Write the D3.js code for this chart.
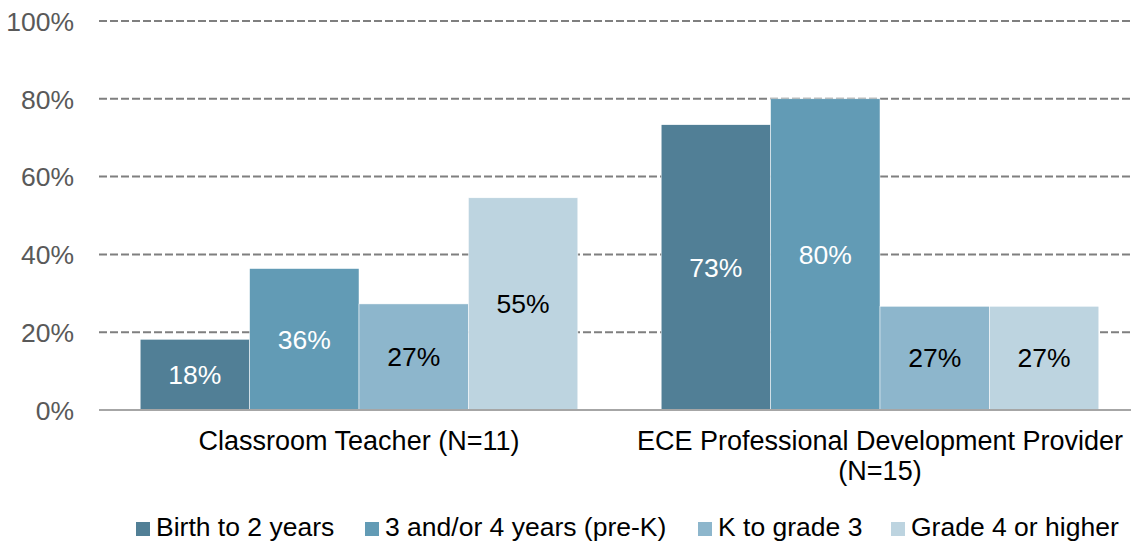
<!DOCTYPE html>
<html>
<head>
<meta charset="utf-8">
<script src="https://cdn.jsdelivr.net/npm/d3@7"></script>
<style>
  body { margin: 0; background: #fff; }
  svg { font-family: "Liberation Sans", Arial, sans-serif; }
</style>
</head>
<body>
<div class="container"></div>
<script>
const categories = [["Classroom Teacher (N=11)"], ["ECE Professional Development Provider", "(N=15)"]];
const series = ["Birth to 2 years", "3 and/or 4 years (pre-K)", "K to grade 3", "Grade 4 or higher"];
const colors = ["#517f96", "#629bb5", "#8db6cc", "#bdd4e0"];
const labelColors = ["#fff", "#fff", "#000", "#000"];
const values = [
  [0.1818, 0.3636, 0.2727, 0.5455],
  [0.7333, 0.8000, 0.2667, 0.2667]
];
const yTicks = [0, 0.2, 0.4, 0.6, 0.8, 1.0];
const legendX = [136, 365, 698, 891];

const width = 1131, height = 544;
const svg = d3.select(".container")
              .append("svg")
              .attr("width", width)
              .attr("height", height);

const x0 = d3.scaleBand()
             .domain(d3.range(categories.length))
             .range([98.5, 1140.5])
             .paddingInner(0)
             .paddingOuter(0);
const x1 = d3.scaleBand()
             .domain(d3.range(series.length))
             .range([0, x0.bandwidth() * 0.84]);
const groupOffset = x0.bandwidth() * 0.08;
const yScale = d3.scaleLinear()
                 .domain([0, 1])
                 .range([410, 21]);

// gridlines
svg.append("g")
   .selectAll("line")
   .data(yTicks.filter(d => d > 0))
   .join("line")
   .attr("x1", 99)
   .attr("x2", width)
   .attr("y1", d => yScale(d))
   .attr("y2", d => yScale(d))
   .attr("stroke", "#7f7f7f")
   .attr("stroke-width", 2)
   .attr("stroke-dasharray", "8,3");

// y tick labels
const yAxis = d3.axisLeft(yScale)
                .tickValues(yTicks)
                .tickFormat(d3.format(".0%"))
                .tickSize(0)
                .tickPadding(0);
svg.append("g")
   .attr("transform", "translate(74,0)")
   .call(yAxis)
   .call(g => g.select(".domain").remove())
   .call(g => g.selectAll("text")
               .attr("font-size", 26.5)
               .attr("font-family", "Liberation Sans, Arial, sans-serif")
               .attr("fill", "#595959")
               .attr("dy", "0.35em"));

// bars
const groups = svg.append("g")
                  .selectAll("g")
                  .data(values)
                  .join("g")
                  .attr("transform", (d, i) => `translate(${x0(i) + groupOffset},0)`);

groups.selectAll("rect")
      .data(d => d)
      .join("rect")
      .attr("x", (d, i) => x1(i))
      .attr("y", d => yScale(d))
      .attr("width", x1.bandwidth())
      .attr("height", d => yScale(0) - yScale(d))
      .attr("fill", (d, i) => colors[i])
      .attr("stroke", "#fff")
      .attr("stroke-width", 0.5);

groups.selectAll("text")
      .data(d => d)
      .join("text")
      .attr("x", (d, i) => x1(i) + x1.bandwidth() / 2)
      .attr("y", d => (yScale(d) + yScale(0)) / 2)
      .attr("dy", "0.35em")
      .attr("text-anchor", "middle")
      .attr("font-size", 26.5)
      .attr("fill", (d, i) => labelColors[i])
      .text(d => d3.format(".0%")(d));

// baseline
svg.append("line")
   .attr("x1", 99)
   .attr("x2", width)
   .attr("y1", yScale(0))
   .attr("y2", yScale(0))
   .attr("stroke", "#a6a6a6")
   .attr("stroke-width", 2);

// category labels
svg.append("g")
   .selectAll("text")
   .data(categories)
   .join("text")
   .attr("x", (d, i) => x0(i) + x0.bandwidth() / 2)
   .attr("y", 450)
   .attr("text-anchor", "middle")
   .attr("font-size", 27)
   .attr("fill", "#000")
   .each(function(d) {
     const t = d3.select(this);
     d.forEach((line, j) => {
       t.append("tspan")
        .attr("x", t.attr("x"))
        .attr("dy", j === 0 ? 0 : 30)
        .text(line);
     });
   });

// legend
const legend = svg.append("g")
                  .selectAll("g")
                  .data(series)
                  .join("g")
                  .attr("transform", (d, i) => `translate(${legendX[i]},0)`);
legend.append("rect")
      .attr("x", 0)
      .attr("y", 522)
      .attr("width", 14)
      .attr("height", 14)
      .attr("fill", (d, i) => colors[i]);
legend.append("text")
      .attr("x", 20)
      .attr("y", 536)
      .attr("font-size", 26.5)
      .attr("fill", "#000")
      .text(d => d);
</script>
</body>
</html>
